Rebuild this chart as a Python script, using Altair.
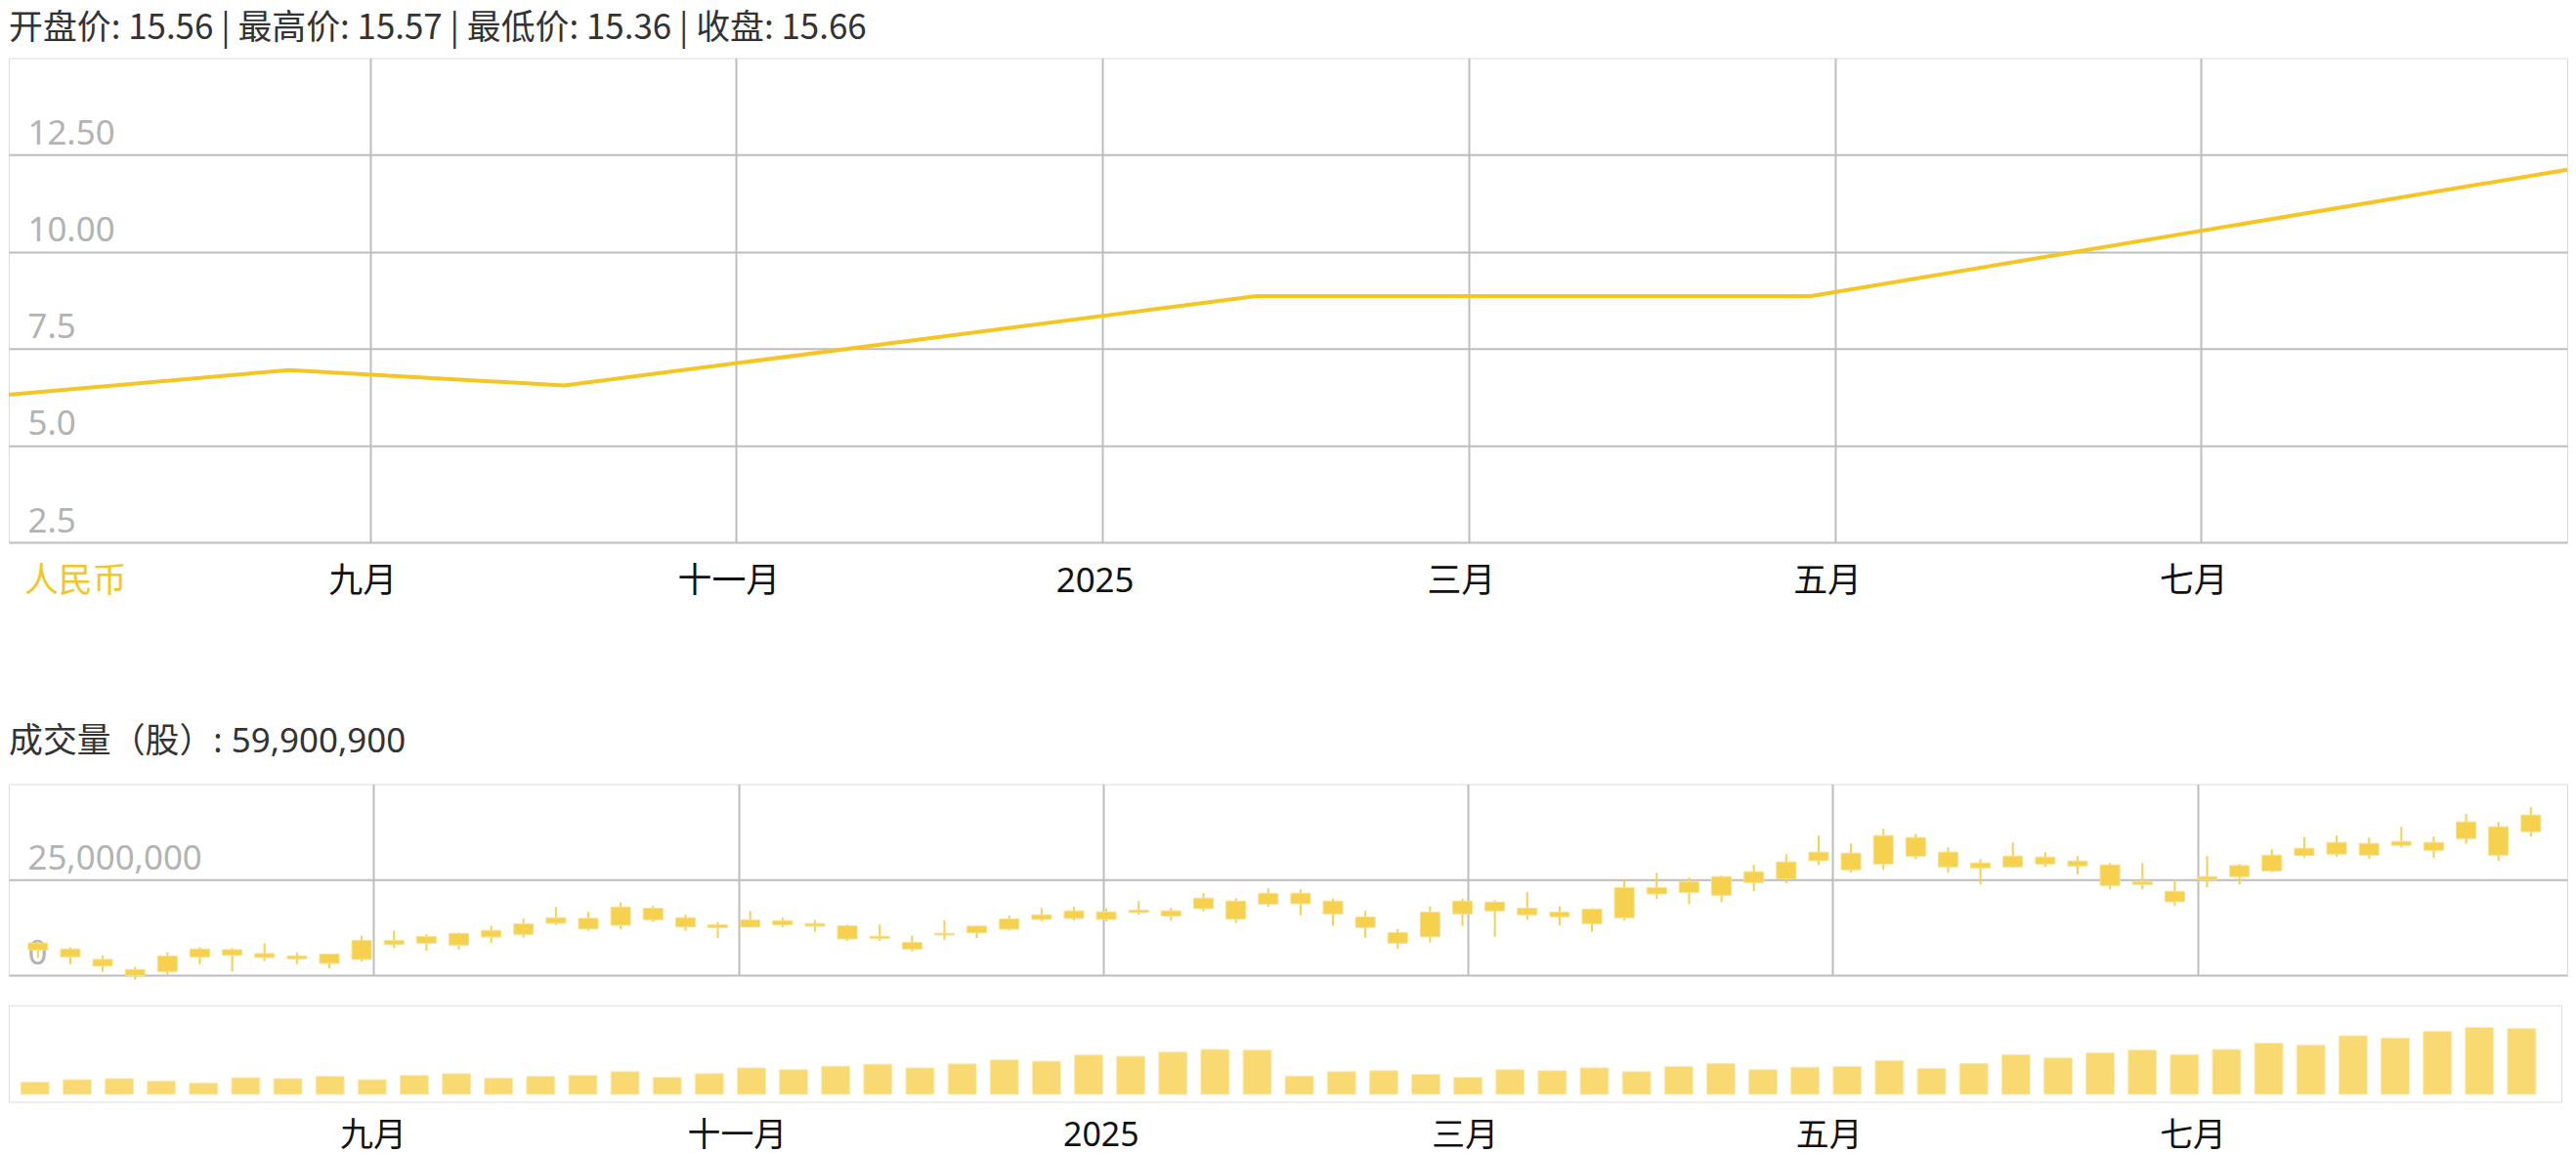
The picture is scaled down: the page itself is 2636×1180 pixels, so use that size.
import json
import numpy as np
import pandas as pd
import altair as alt

FONT = "Noto Sans, Noto Sans CJK SC"
TITLE_FONT = "Noto Sans CJK SC"
GOLD = "#F5C623"
CANDLE = "#F5D14E"
CANDLE_EDGE = "#F8DF88"
BAR = "#F8D972"
BAR_EDGE = "#FCEBB5"
GRID = "#BDBDBD"
FRAME = "#B8B8B8"
YLAB = "#B3B3B3"
XLAB = "#111111"
TITLE_C = "#333333"
FS = 35

# ---- texts ----
TITLE_PRICE = "开盘价: 15.56 | 最高价: 15.57 | 最低价: 15.36 | 收盘: 15.66"
TITLE_VOL = "成交量（股）: 59,900,900"
CURRENCY = "人民币"

# ---- axis ticks / labels (x in months since 2024-07-01) ----
X_DOMAIN = [0.027, 14.0]
X_TICKS = [2, 4, 6, 8, 10, 12]
X_LABELS = ["九月", "十一月", "2025", "三月", "五月", "七月"]
PRICE_DOMAIN = [2.5, 15]
PRICE_TICKS = [2.5, 5, 7.5, 10, 12.5]
PRICE_LABELS = ["2.5", "5.0", "7.5", "10.00", "12.50"]
CANDLE_DOMAIN = [0, 50]          # millions of shares
CANDLE_TICKS = [0, 25]
VOL_DOMAIN = [-6.7, 80.9]        # millions of shares

# ---- price line ----
LINE_MONTH = [0.0, 1.56, 3.06, 6.84, 9.87, 14.0]
LINE_PRICE = [6.30, 6.95, 6.55, 8.86, 8.86, 12.12]

# ---- candles (millions) ----
C_HIGH = [8.9, 7.25, 5.12, 2.13, 5.97, 7.34, 7.08, 8.28, 5.97, 5.63,
          10.32, 11.60, 10.67, 11.18, 12.88, 14.76, 17.83, 16.47, 19.03, 18.17,
          15.87, 13.91, 16.72, 15.02, 14.42, 13.22, 13.22, 10.32, 14.33, 13.05,
          15.61, 17.58, 17.83, 17.49, 19.37, 17.66, 21.50, 20.14, 22.70, 22.44,
          20.05, 16.81, 12.12, 18.00, 20.05, 19.62, 21.67, 18.00, 17.49, 24.91,
          26.79, 25.51, 26.02, 28.84, 31.65, 36.52, 34.47, 38.31, 37.03, 33.45,
          30.37, 34.72, 32.17, 31.14, 29.35, 29.35, 25.00, 31.14, 29.09, 32.93,
          36.09, 36.52, 36.01, 38.82, 36.26, 42.15, 40.10, 43.94]
C_LOW = [4.5, 2.82, 0.85, -1.2, 0.09, 2.82, 0.94, 3.67, 2.82, 1.79,
         3.50, 7.08, 6.40, 6.65, 8.45, 9.81, 13.05, 11.60, 12.03, 13.91,
         11.60, 9.64, 12.46, 12.54, 11.35, 8.96, 8.96, 6.23, 9.21, 9.64,
         11.69, 14.08, 14.33, 14.08, 15.78, 14.25, 16.64, 13.65, 17.83, 15.61,
         12.88, 9.81, 6.83, 8.53, 12.88, 10.07, 14.50, 13.05, 11.35, 14.25,
         19.88, 18.60, 19.11, 21.93, 24.06, 28.84, 26.79, 27.56, 30.37, 26.79,
         23.72, 28.07, 28.33, 26.36, 22.44, 22.44, 18.17, 22.95, 23.72, 26.88,
         30.72, 30.97, 30.46, 33.36, 30.72, 34.38, 29.86, 36.26]
C_CLOSE = [8.4, 6.83, 4.10, 1.45, 4.95, 6.83, 6.65, 5.63, 5.03, 5.46,
           9.04, 9.04, 10.07, 10.92, 11.69, 13.40, 15.02, 14.85, 17.83, 17.49,
           15.02, 13.14, 14.42, 14.25, 13.48, 12.88, 10.15, 8.53, 10.92, 12.80,
           14.67, 15.78, 16.81, 16.55, 16.98, 16.81, 20.14, 19.37, 21.42, 21.42,
           19.37, 15.19, 11.09, 16.47, 19.37, 19.11, 17.49, 16.47, 17.23, 22.87,
           22.87, 24.49, 25.77, 27.05, 29.61, 32.17, 31.91, 36.52, 36.01, 32.17,
           29.35, 31.14, 30.89, 29.86, 28.84, 24.49, 21.93, 25.77, 28.67, 31.40,
           33.19, 34.72, 34.47, 34.98, 34.72, 40.10, 38.82, 41.89]
C_OPEN = [6.6, 4.78, 2.39, -0.15, 0.94, 4.78, 5.20, 4.61, 4.27, 3.07,
          4.10, 8.02, 8.36, 7.85, 9.98, 10.67, 13.57, 12.12, 13.05, 14.50,
          12.63, 12.46, 12.63, 13.14, 12.80, 9.47, 9.64, 6.83, 10.49, 11.09,
          12.03, 14.59, 14.85, 14.59, 16.38, 15.44, 17.41, 14.67, 18.60, 18.69,
          16.04, 12.46, 8.36, 10.07, 16.04, 16.81, 15.78, 15.27, 13.48, 15.02,
          21.24, 21.67, 20.90, 24.23, 25.17, 29.95, 27.56, 29.09, 31.14, 28.33,
          28.07, 28.33, 29.09, 28.58, 23.46, 23.72, 19.20, 25.00, 25.77, 27.30,
          31.31, 31.65, 31.40, 33.96, 32.68, 35.75, 31.40, 37.54]
CANDLE_FIRST, CANDLE_STEP = 0.16, 0.1775   # month position of first candle, spacing

# ---- weekly volume bars (millions) ----
VOLUME = [11.3, 13.4, 14.3, 12.2, 10.4, 15.2, 14.3, 16.4, 13.4, 17.3,
          18.8, 14.9, 16.4, 17.3, 20.6, 15.5, 18.8, 24.1, 22.4, 25.6,
          27.4, 24.1, 27.7, 31.3, 30.1, 35.8, 34.6, 38.4, 40.8, 40.2,
          16.7, 20.6, 21.5, 18.2, 15.5, 22.4, 21.5, 24.1, 20.6, 25.3,
          28.0, 22.4, 24.7, 25.3, 30.7, 23.5, 28.0, 36.1, 33.1, 37.8,
          40.5, 36.1, 40.8, 46.5, 44.7, 53.3, 51.3, 57.2, 60.8, 59.9]
VOL_FIRST, VOL_STEP = 0.144, 0.2316

# ---- tables ----
price_df = pd.DataFrame({"month": LINE_MONTH, "price": LINE_PRICE})
candle_df = pd.DataFrame({
    "month": CANDLE_FIRST + CANDLE_STEP * np.arange(len(C_HIGH)),
    "high": C_HIGH, "low": C_LOW, "open": C_OPEN, "close": C_CLOSE,
})
vol_df = pd.DataFrame({
    "month": VOL_FIRST + VOL_STEP * np.arange(len(VOLUME)),
    "vol": VOLUME,
})

x_label_expr = (f"{json.dumps(X_LABELS, ensure_ascii=False)}"
                f"[indexof({json.dumps(X_TICKS)}, datum.value)]")
price_label_expr = (f"{json.dumps(PRICE_LABELS)}"
                    f"[indexof({json.dumps(PRICE_TICKS)}, datum.value)]")

x_scale = alt.Scale(domain=X_DOMAIN, nice=False, zero=False)

W = 2625
W3 = 2619
H1, H2, H3 = 497, 196, 99


def inner_y_axis(values, expr):
    return alt.Axis(values=values, labelExpr=expr, grid=True, gridColor=GRID,
                    gridWidth=2, ticks=False, tickSize=0, domain=False,
                    labelAlign="left", labelPadding=-19, labelBaseline="alphabetic",
                    labelOffset=-11, labelColor=YLAB, labelFontSize=FS,
                    labelFont=FONT, labelFlush=False, title=None)


# ---- chart 1: price line ----
line = alt.Chart(price_df).mark_line(color=GOLD, strokeWidth=4, clip=True).encode(
    x=alt.X("month:Q", scale=x_scale,
            axis=alt.Axis(values=X_TICKS, labelExpr=x_label_expr, grid=True,
                          gridColor=GRID, gridWidth=2, ticks=False, domain=False,
                          labelPadding=23, labelOffset=-8, labelColor=XLAB,
                          labelFontSize=FS, labelFont=FONT, labelBaseline="top",
                          labelFlush=False, title=None)),
    y=alt.Y("price:Q", scale=alt.Scale(domain=PRICE_DOMAIN, nice=False, zero=False),
            axis=inner_y_axis(PRICE_TICKS, price_label_expr)),
)
currency = alt.Chart(pd.DataFrame({"label": [CURRENCY]})).mark_text(
    align="left", baseline="top", fontSize=FS, color=GOLD, font=FONT
).encode(text="label:N", x=alt.value(16), y=alt.value(H1 + 23))

chart1 = alt.layer(line, currency).properties(
    width=W, height=H1,
    title=alt.TitleParams(TITLE_PRICE, anchor="start", fontSize=FS, fontWeight="normal",
                          color=TITLE_C, font=TITLE_FONT, offset=12),
)

# ---- chart 2: candles ----
wick = alt.Chart(candle_df).mark_rule(color=CANDLE, strokeWidth=2).encode(
    x=alt.X("month:Q", scale=x_scale,
            axis=alt.Axis(values=X_TICKS, grid=True, gridColor=GRID, gridWidth=2,
                          labels=False, ticks=False, domain=False, title=None)),
    y=alt.Y("low:Q", scale=alt.Scale(domain=CANDLE_DOMAIN, nice=False, zero=False),
            axis=inner_y_axis(CANDLE_TICKS, "format(datum.value * 1000000, ',')")),
    y2="high:Q",
)
body = alt.Chart(candle_df).mark_bar(color=CANDLE, size=20, stroke=CANDLE_EDGE,
                                     strokeWidth=1).encode(
    x="month:Q", y="open:Q", y2="close:Q",
)
chart2 = alt.layer(wick, body).properties(
    width=W, height=H2,
    title=alt.TitleParams(TITLE_VOL, anchor="start", fontSize=FS, fontWeight="normal",
                          color=TITLE_C, font=FONT, offset=26),
)

# ---- chart 3: weekly volume bars ----
chart3 = alt.Chart(vol_df).mark_bar(color=BAR, size=29, stroke=BAR_EDGE,
                                    strokeWidth=1).encode(
    x=alt.X("month:Q", scale=x_scale,
            axis=alt.Axis(values=X_TICKS, labelExpr=x_label_expr, grid=False,
                          ticks=False, domain=False, labelPadding=18,
                          labelColor=XLAB, labelFontSize=34, labelFont=FONT,
                          labelBaseline="top", labelFlush=False, title=None)),
    y=alt.Y("vol:Q", scale=alt.Scale(domain=VOL_DOMAIN, nice=False, zero=False),
            axis=None),
    y2=alt.datum(0),
).properties(width=W3, height=H3)

lower = alt.vconcat(chart2, chart3, spacing=23)
chart = alt.vconcat(chart1, lower, spacing=127).properties(
    padding={"top": 2, "left": 0, "right": 0, "bottom": 0}, background="white"
).configure_view(
    stroke=FRAME, strokeWidth=2
).configure(font=FONT)

chart.save("out.html", embed_options={"renderer": "svg", "actions": False})
